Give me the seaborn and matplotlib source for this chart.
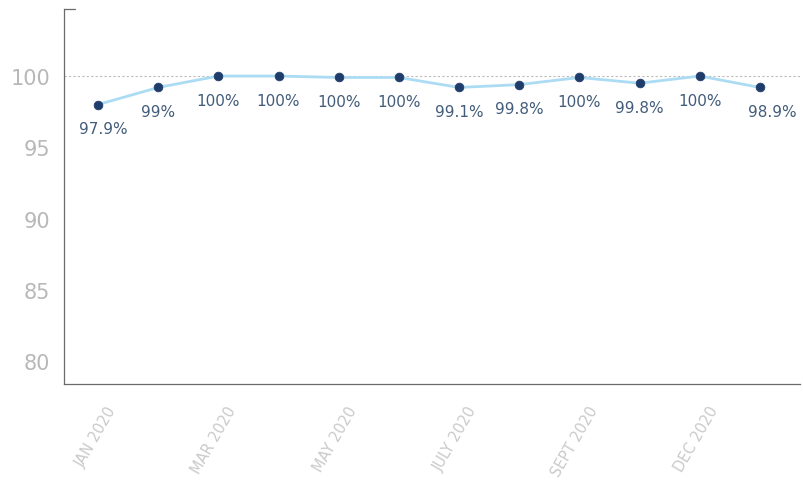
import matplotlib
matplotlib.use("Agg")
import matplotlib.pyplot as plt
import matplotlib.transforms as mtransforms
import seaborn as sns
import pandas as pd

months = ["JAN 2020", "FEB 2020", "MAR 2020", "APR 2020", "MAY 2020", "JUN 2020",
          "JULY 2020", "AUG 2020", "SEPT 2020", "OCT 2020", "NOV 2020", "DEC 2020"]
values = [98.0, 99.2, 100.0, 100.0, 99.9, 99.9, 99.2, 99.4, 99.9, 99.5, 100.0, 99.2]
point_labels = ["97.9%", "99%", "100%", "100%", "100%", "100%",
                "99.1%", "99.8%", "100%", "99.8%", "100%", "98.9%"]
tick_idx = [0, 2, 4, 6, 8, 10]
tick_labels = ["JAN 2020", "MAR 2020", "MAY 2020", "JULY 2020", "SEPT 2020", "DEC 2020"]
y_ticks = [80, 85, 90, 95, 100]

sns.set_theme(style="white")
plt.rcParams["font.family"] = ["DejaVu Sans"]

df = pd.DataFrame({"x": range(len(months)), "month": months, "value": values})

fig = plt.figure(figsize=(8.04, 5.02), dpi=100)
ax = fig.add_axes([0.0796, 0.233, 0.915, 0.747])

ax.axhline(100, color="#bcbcbc", lw=0.8, ls=(0, (2, 2)), zorder=1)

sns.lineplot(data=df, x="x", y="value", ax=ax, color="#acdcf3", lw=2.0, zorder=2)
sns.scatterplot(data=df, x="x", y="value", ax=ax, color="#1f3d6b", s=40,
                edgecolor="#1f3d6b", linewidth=0.5, zorder=3)

for i, (v, lab) in enumerate(zip(values, point_labels)):
    dx = 12 if i == len(values) - 1 else (5 if i == 0 else 0)
    ax.annotate(lab, (i, v), xytext=(dx, -24), textcoords="offset pixels",
                ha="center", va="center", fontsize=11, color="#425c7a")

ax.set_xlim(-0.565, 11.66)
ax.set_ylim(78.4, 104.7)
ax.set_yticks(y_ticks)
ax.set_yticklabels([str(t) for t in y_ticks], fontsize=15, color="#b8b8b8")
ax.set_xticks(tick_idx)
ax.set_xticklabels(tick_labels, rotation=60, ha="right", rotation_mode="anchor",
                   fontsize=10.5, color="#cacaca")
ax.tick_params(axis="both", length=0)
ax.tick_params(axis="y", pad=10)
ax.tick_params(axis="x", pad=14)
shift = mtransforms.ScaledTranslation(8 / 100, 0, fig.dpi_scale_trans)
for t in ax.get_xticklabels():
    t.set_transform(t.get_transform() + shift)
ax.set_xlabel("")
ax.set_ylabel("")

for s in ["top", "right"]:
    ax.spines[s].set_visible(False)
for s in ["left", "bottom"]:
    ax.spines[s].set_color("#6a6a6a")
    ax.spines[s].set_linewidth(0.9)

ax.axhline(104.7, xmin=0, xmax=0.015, color="#6a6a6a", lw=0.9, clip_on=False)

fig.savefig("out.png", dpi=100)
